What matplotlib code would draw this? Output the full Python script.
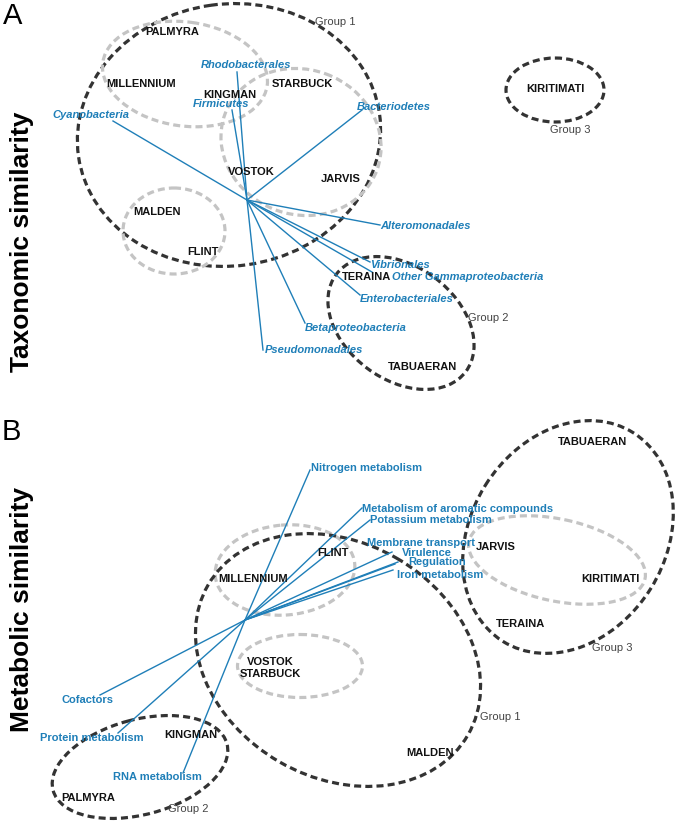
import numpy as np
import matplotlib.pyplot as plt
from matplotlib.patches import Ellipse

plt.rcParams['font.family'] = ['Liberation Sans', 'DejaVu Sans']

BLUE = "#1f7fb8"
DARK = "#333333"
LIGHT = "#c4c4c4"

# ---------------- panel A: taxonomic similarity ----------------
sites_a = ["PALMYRA", "MILLENNIUM", "KINGMAN", "STARBUCK", "VOSTOK", "JARVIS",
           "MALDEN", "FLINT", "TERAINA", "TABUAERAN", "KIRITIMATI"]
sites_a_x = [172, 141, 230, 302, 251, 341, 157, 203, 367, 423, 555]
sites_a_y = [32, 84, 95, 84, 172, 179, 212, 252, 277, 367, 89]

origin_a = (247, 200)
vec_a = ["Cyanobacteria", "Rhodobacterales", "Firmicutes", "Bacteriodetes",
         "Alteromonadales", "Vibrionales", "Other Gammaproteobacteria",
         "Enterobacteriales", "Betaproteobacteria", "Pseudomonadales"]
vec_a_x = [113, 237, 232, 362, 380, 370, 372, 360, 305, 263]
vec_a_y = [121, 72, 110, 110, 225, 262, 272, 295, 323, 350]

# ---------------- panel B: metabolic similarity ----------------
sites_b = ["MILLENNIUM", "FLINT", "VOSTOK\nSTARBUCK", "KINGMAN", "PALMYRA",
           "MALDEN", "JARVIS", "KIRITIMATI", "TERAINA", "TABUAERAN"]
sites_b_x = [253, 333, 270, 191, 88, 430, 496, 610, 520, 592]
sites_b_y = [579, 553, 668, 735, 798, 753, 547, 579, 624, 442]

origin_b = (245, 620)
vec_b = ["Nitrogen metabolism", "Metabolism of aromatic compounds",
         "Potassium metabolism", "Membrane transport", "Virulence",
         "Regulation", "Iron metabolism", "Cofactors", "Protein metabolism",
         "RNA metabolism"]
vec_b_x = [310, 362, 370, 392, 398, 395, 393, 100, 118, 183]
vec_b_y = [470, 508, 520, 552, 562, 564, 570, 695, 733, 773]

# label placement (offset from vector tip, alignment)
lab_a = [(16, -6, "right"), (9, -7, "center"), (-11, -6, "center"), (-5, -3, "left"),
         (0, 1, "left"), (0, 3, "left"), (20, 5, "left"), (0, 4, "left"),
         (0, 5, "left"), (2, 0, "left")]
lab_b = [(1, -2, "left"), (0, 1, "left"), (0, 0, "left"), (-25, -9, "left"),
         (4, -9, "left"), (13, -2, "left"), (4, 5, "left"), (-13, 5, "center"),
         (-26, 5, "center"), (-26, 4, "center")]

# group outlines: (cx, cy, w, h, angle, colour)
ell_a = [(229, 135, 304, 262, -8, DARK),
         (185, 74, 166, 104, 8, LIGHT),
         (301, 142, 162, 145, 20, LIGHT),
         (174, 231, 102, 86, 0, LIGHT),
         (555, 90, 98, 64, 0, DARK),
         (401, 323, 162, 113, 37, DARK)]
ell_b = [(285, 570, 140, 90, -5, LIGHT),
         (300, 666, 125, 63, 0, LIGHT),
         (338, 660, 300, 235, 30, DARK),
         (140, 767, 180, 95, -15, DARK),
         (568, 537, 246, 195, -58, DARK),
         (557, 560, 180, 82, 12, LIGHT)]

groups_a = [("Group 1", 335, 22), ("Group 3", 570, 130), ("Group 2", 488, 318)]
groups_b = [("Group 1", 500, 717), ("Group 3", 612, 648), ("Group 2", 188, 809)]

fig = plt.figure(figsize=(6.76, 8.22), dpi=100)
ax = fig.add_axes([0, 0, 1, 1])
ax.set_xlim(0, 676)
ax.set_ylim(822, 0)
ax.axis("off")


def draw_panel(ells, origin, vx, vy, vnames, labs, snames, sx, sy, groups, style):
    for cx, cy, w, h, ang, col in ells:
        ax.add_patch(Ellipse((cx, cy), w, h, angle=ang, fill=False, ec=col,
                             lw=2.3, ls=(0, (2.2, 1.3))))
    for x, y, name, (dx, dy, ha) in zip(vx, vy, vnames, labs):
        ax.plot([origin[0], x], [origin[1], y], color=BLUE, lw=1.0)
        ax.text(x + dx, y + dy, name, color=BLUE, ha=ha, va="center",
                fontsize=8, fontweight="bold", style=style)
    for name, x, y in zip(snames, sx, sy):
        ax.text(x, y, name, ha="center", va="center", fontsize=8,
                fontweight="bold", color="#111111")
    for name, x, y in groups:
        ax.text(x, y, name, ha="center", va="center", fontsize=8, color="#444444")


draw_panel(ell_a, origin_a, vec_a_x, vec_a_y, vec_a, lab_a,
           sites_a, sites_a_x, sites_a_y, groups_a, "italic")
draw_panel(ell_b, origin_b, vec_b_x, vec_b_y, vec_b, lab_b,
           sites_b, sites_b_x, sites_b_y, groups_b, "normal")

ax.text(13, 16, "A", fontsize=21, ha="center", va="center")
ax.text(11, 432, "B", fontsize=21, ha="center", va="center")
ax.text(22, 242, "Taxonomic similarity", rotation=90, fontsize=19,
        fontweight="bold", ha="center", va="center")
ax.text(22, 609, "Metabolic similarity", rotation=90, fontsize=19,
        fontweight="bold", ha="center", va="center")

fig.savefig("out.png", dpi=100)
